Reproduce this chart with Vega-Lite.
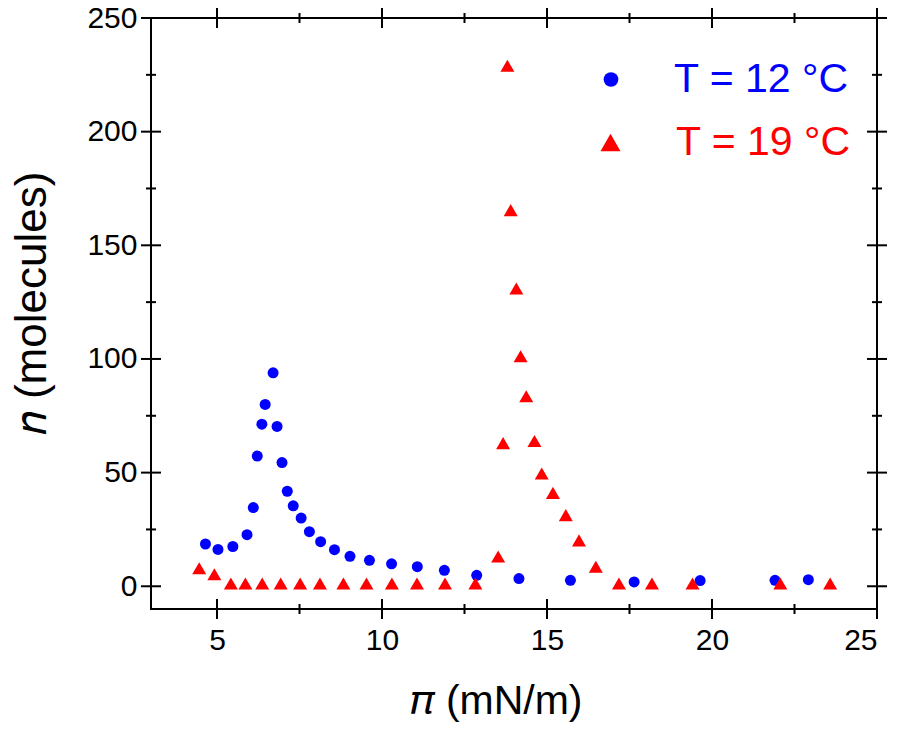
{
  "$schema": "https://vega.github.io/schema/vega-lite/v6.json",
  "autosize": {"type": "none"},
  "padding": {"left": 151, "top": 18, "right": 23, "bottom": 126},
  "width": 726,
  "height": 591,
  "background": "white",
  "config": {
    "view": {"stroke": "black", "strokeWidth": 2},
    "font": "Liberation Sans",
    "axis": {
      "grid": false,
      "domain": false,
      "ticks": false,
      "labelFont": "Liberation Sans",
      "labelFontSize": 30,
      "labelColor": "black",
      "titleFont": "Liberation Sans",
      "titleFontSize": 41,
      "titleFontWeight": "normal",
      "titleColor": "black"
    },
    "legend": {
      "title": null,
      "orient": "none",
      "padding": 0,
      "labelFont": "Liberation Sans",
      "labelFontSize": 41,
      "symbolStrokeWidth": 0,
      "labelLimit": 400
    },
    "tick": {"color": "black", "thickness": 2, "opacity": 1, "clip": true}
  },
  "datasets": {
    "xMajor": [{"v": 5}, {"v": 10}, {"v": 15}, {"v": 20}, {"v": 25}],
    "xMinor": [{"v": 7.5}, {"v": 12.5}, {"v": 17.5}, {"v": 22.5}],
    "yMajor": [{"v": 0}, {"v": 50}, {"v": 100}, {"v": 150}, {"v": 200}, {"v": 250}],
    "yMinor": [{"v": 25}, {"v": 75}, {"v": 125}, {"v": 175}, {"v": 225}]
  },
  "data": {
    "values": [
      {"pi": 4.65, "n": 18.6, "series": "T = 12 °C"},
      {"pi": 5.03, "n": 16.2, "series": "T = 12 °C"},
      {"pi": 5.48, "n": 17.5, "series": "T = 12 °C"},
      {"pi": 5.91, "n": 22.7, "series": "T = 12 °C"},
      {"pi": 6.10, "n": 34.6, "series": "T = 12 °C"},
      {"pi": 6.22, "n": 57.3, "series": "T = 12 °C"},
      {"pi": 6.36, "n": 71.3, "series": "T = 12 °C"},
      {"pi": 6.46, "n": 80.0, "series": "T = 12 °C"},
      {"pi": 6.70, "n": 93.9, "series": "T = 12 °C"},
      {"pi": 6.82, "n": 70.3, "series": "T = 12 °C"},
      {"pi": 6.97, "n": 54.4, "series": "T = 12 °C"},
      {"pi": 7.13, "n": 41.8, "series": "T = 12 °C"},
      {"pi": 7.31, "n": 35.4, "series": "T = 12 °C"},
      {"pi": 7.55, "n": 30.0, "series": "T = 12 °C"},
      {"pi": 7.80, "n": 24.0, "series": "T = 12 °C"},
      {"pi": 8.14, "n": 19.6, "series": "T = 12 °C"},
      {"pi": 8.56, "n": 16.1, "series": "T = 12 °C"},
      {"pi": 9.03, "n": 13.2, "series": "T = 12 °C"},
      {"pi": 9.62, "n": 11.4, "series": "T = 12 °C"},
      {"pi": 10.29, "n": 9.9, "series": "T = 12 °C"},
      {"pi": 11.07, "n": 8.6, "series": "T = 12 °C"},
      {"pi": 11.89, "n": 7.0, "series": "T = 12 °C"},
      {"pi": 12.87, "n": 4.8, "series": "T = 12 °C"},
      {"pi": 14.15, "n": 3.4, "series": "T = 12 °C"},
      {"pi": 15.71, "n": 2.6, "series": "T = 12 °C"},
      {"pi": 17.64, "n": 1.9, "series": "T = 12 °C"},
      {"pi": 19.64, "n": 2.5, "series": "T = 12 °C"},
      {"pi": 21.91, "n": 2.6, "series": "T = 12 °C"},
      {"pi": 22.92, "n": 2.9, "series": "T = 12 °C"},
      {"pi": 4.46, "n": 7.9, "series": "T = 19 °C"},
      {"pi": 4.92, "n": 5.3, "series": "T = 19 °C"},
      {"pi": 5.42, "n": 1.2, "series": "T = 19 °C"},
      {"pi": 5.86, "n": 1.2, "series": "T = 19 °C"},
      {"pi": 6.37, "n": 1.2, "series": "T = 19 °C"},
      {"pi": 6.93, "n": 1.2, "series": "T = 19 °C"},
      {"pi": 7.52, "n": 1.2, "series": "T = 19 °C"},
      {"pi": 8.12, "n": 1.2, "series": "T = 19 °C"},
      {"pi": 8.83, "n": 1.2, "series": "T = 19 °C"},
      {"pi": 9.53, "n": 1.2, "series": "T = 19 °C"},
      {"pi": 10.30, "n": 1.2, "series": "T = 19 °C"},
      {"pi": 11.06, "n": 1.2, "series": "T = 19 °C"},
      {"pi": 11.91, "n": 1.2, "series": "T = 19 °C"},
      {"pi": 12.83, "n": 1.2, "series": "T = 19 °C"},
      {"pi": 13.52, "n": 13.1, "series": "T = 19 °C"},
      {"pi": 13.67, "n": 63.0, "series": "T = 19 °C"},
      {"pi": 13.80, "n": 229.0, "series": "T = 19 °C"},
      {"pi": 13.90, "n": 165.5, "series": "T = 19 °C"},
      {"pi": 14.07, "n": 131.0, "series": "T = 19 °C"},
      {"pi": 14.20, "n": 101.2, "series": "T = 19 °C"},
      {"pi": 14.37, "n": 83.6, "series": "T = 19 °C"},
      {"pi": 14.62, "n": 63.9, "series": "T = 19 °C"},
      {"pi": 14.84, "n": 49.6, "series": "T = 19 °C"},
      {"pi": 15.18, "n": 41.1, "series": "T = 19 °C"},
      {"pi": 15.57, "n": 31.3, "series": "T = 19 °C"},
      {"pi": 15.97, "n": 20.2, "series": "T = 19 °C"},
      {"pi": 16.48, "n": 8.6, "series": "T = 19 °C"},
      {"pi": 17.18, "n": 1.2, "series": "T = 19 °C"},
      {"pi": 18.18, "n": 1.2, "series": "T = 19 °C"},
      {"pi": 19.41, "n": 1.2, "series": "T = 19 °C"},
      {"pi": 22.07, "n": 1.2, "series": "T = 19 °C"},
      {"pi": 23.58, "n": 1.2, "series": "T = 19 °C"}
    ]
  },
  "layer": [
    {
      "transform": [{"filter": "datum.series === 'T = 12 °C'"}],
      "mark": {"type": "point", "filled": true, "opacity": 1, "size": 121},
      "encoding": {
        "x": {
          "field": "pi", "type": "quantitative",
          "scale": {"domain": [3, 25], "nice": false, "zero": false},
          "axis": {
            "orient": "bottom",
            "title": "𝜋 (mN/m)",
            "titleX": 345, "titleY": 104, "titleBaseline": "alphabetic", "titleAnchor": null,
            "values": [5, 10, 15, 20, 25],
            "labelPadding": 16
          }
        },
        "y": {
          "field": "n", "type": "quantitative",
          "scale": {"domain": [-10, 250], "nice": false, "zero": false},
          "axis": {
            "orient": "left",
            "title": "𝑛 (molecules)",
            "titleFontSize": 44,
            "titleX": -106, "titleY": 285, "titleAngle": -90, "titleBaseline": "alphabetic", "titleAlign": "center",
            "values": [0, 50, 100, 150, 200, 250],
            "labelPadding": 14
          }
        },
        "color": {
          "field": "series", "type": "nominal",
          "scale": {"range": ["#0000ff"]},
          "legend": {"legendX": 439.5, "legendY": 41, "labelColor": "#0000ff", "symbolSize": 216, "labelOffset": 42.5}
        },
        "shape": {
          "field": "series", "type": "nominal",
          "scale": {"range": ["circle"]},
          "legend": {"legendX": 439.5, "legendY": 41, "labelColor": "#0000ff", "symbolSize": 216, "labelOffset": 42.5}
        }
      }
    },
    {
      "transform": [{"filter": "datum.series === 'T = 19 °C'"}],
      "mark": {"type": "point", "filled": true, "opacity": 1, "size": 196},
      "encoding": {
        "x": {"field": "pi", "type": "quantitative", "axis": null},
        "y": {"field": "n", "type": "quantitative", "axis": null},
        "color": {
          "field": "series", "type": "nominal",
          "scale": {"range": ["#ff0000"]},
          "legend": {"legendX": 439, "legendY": 104, "labelColor": "#ff0000", "symbolSize": 400, "labelOffset": 45}
        },
        "shape": {
          "field": "series", "type": "nominal",
          "scale": {"range": ["triangle-up"]},
          "legend": {"legendX": 439, "legendY": 104, "labelColor": "#ff0000", "symbolSize": 400, "labelOffset": 45}
        }
      }
    },
    {
      "data": {"name": "xMajor"},
      "mark": {"type": "tick", "orient": "vertical", "size": 20},
      "encoding": {
        "x": {"field": "v", "type": "quantitative", "axis": null},
        "y": {"datum": -10, "type": "quantitative", "axis": null}
      }
    },
    {
      "data": {"name": "xMajor"},
      "mark": {"type": "tick", "orient": "vertical", "size": 20},
      "encoding": {
        "x": {"field": "v", "type": "quantitative", "axis": null},
        "y": {"datum": 250, "type": "quantitative", "axis": null}
      }
    },
    {
      "data": {"name": "xMinor"},
      "mark": {"type": "tick", "orient": "vertical", "size": 10},
      "encoding": {
        "x": {"field": "v", "type": "quantitative", "axis": null},
        "y": {"datum": -10, "type": "quantitative", "axis": null}
      }
    },
    {
      "data": {"name": "xMinor"},
      "mark": {"type": "tick", "orient": "vertical", "size": 10},
      "encoding": {
        "x": {"field": "v", "type": "quantitative", "axis": null},
        "y": {"datum": 250, "type": "quantitative", "axis": null}
      }
    },
    {
      "data": {"name": "yMajor"},
      "mark": {"type": "tick", "orient": "horizontal", "size": 20},
      "encoding": {
        "y": {"field": "v", "type": "quantitative", "axis": null},
        "x": {"datum": 3, "type": "quantitative", "axis": null}
      }
    },
    {
      "data": {"name": "yMajor"},
      "mark": {"type": "tick", "orient": "horizontal", "size": 20},
      "encoding": {
        "y": {"field": "v", "type": "quantitative", "axis": null},
        "x": {"datum": 25, "type": "quantitative", "axis": null}
      }
    },
    {
      "data": {"name": "yMinor"},
      "mark": {"type": "tick", "orient": "horizontal", "size": 10},
      "encoding": {
        "y": {"field": "v", "type": "quantitative", "axis": null},
        "x": {"datum": 3, "type": "quantitative", "axis": null}
      }
    },
    {
      "data": {"name": "yMinor"},
      "mark": {"type": "tick", "orient": "horizontal", "size": 10},
      "encoding": {
        "y": {"field": "v", "type": "quantitative", "axis": null},
        "x": {"datum": 25, "type": "quantitative", "axis": null}
      }
    }
  ],
  "resolve": {
    "axis": {"x": "independent", "y": "independent"},
    "scale": {"color": "independent", "shape": "independent"},
    "legend": {"color": "independent", "shape": "independent"}
  }
}
